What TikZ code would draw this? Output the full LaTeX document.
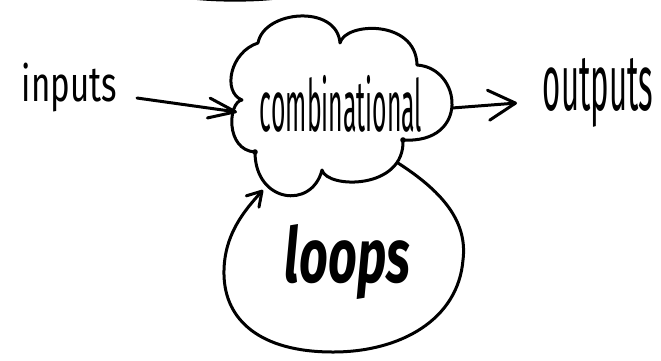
\documentclass[tikz,border=0pt]{standalone}
\usepackage{fontspec}
\setmainfont{Fira Sans}
\usepackage{graphicx}
\usetikzlibrary{arrows.meta}
\begin{document}
\begin{tikzpicture}[x=1pt,y=-1pt,
  pen/.style={line width=3pt, line cap=round, line join=round},
  label/.style={inner sep=0pt, anchor=center},
  inarrow/.style={pen, -{Straight Barb[length=27pt,width=20pt,round]}},
  outarrow/.style={pen, -{Straight Barb[length=27pt,width=30pt,round]}},
  looparrow/.style={pen, -{Straight Barb[length=14pt,width=17pt,round]}}]
\useasboundingbox (0,0) rectangle (661,360);

% stroke cut off at the top edge
\fill (188,-1) .. controls (215,2.5) and (255,2.5) .. (281,-1) -- cycle;

% the cloud
\draw[pen] (258,43) .. controls (264,10) and (337,4) .. (340,43)
  .. controls (345,22) and (416,19) .. (417,65)
  .. controls (462,68) and (470,144) .. (403,140)
  .. controls (405,190) and (327,189) .. (322,170)
  .. controls (312,210) and (255,203) .. (255,152)
  .. controls (225,150) and (228,102) .. (242,100)
  .. controls (222,92) and (230,52) .. (258,43);
\fill (255,152) circle (2.8pt);
\fill (403,140) circle (2.8pt);

% texts
\node[label] (inputs) at (69.5,87.5) {\resizebox*{95pt}{49pt}{inputs}};
\node[label] (comb) at (341,103.5) {\resizebox*{162pt}{57pt}{combinational}};
\node[label] (outputs) at (598,92.5) {\resizebox*{110pt}{69pt}{outputs}};
\node[label] (loops) at (347.5,262.5) {\resizebox*{125pt}{75pt}{\bfseries\itshape loops}};

% connector ends
\coordinate (inStart) at (137,98);
\coordinate (inTip) at (237,112);
\coordinate (outStart) at (452,108);
\coordinate (outTip) at (517,103);
\coordinate (loopStart) at (398,163);
\coordinate (loopTip) at (263,190);

\draw[inarrow] (inStart) -- (inTip);
\draw[outarrow] (outStart) -- (outTip);
\draw[looparrow] (loopStart) .. controls (440,190) and (468,220) .. (463,260)
  .. controls (458,320) and (400,352) .. (333,352)
  .. controls (260,352) and (225,320) .. (224,275)
  .. controls (223,235) and (245,210) .. (loopTip);
\end{tikzpicture}
\end{document}
